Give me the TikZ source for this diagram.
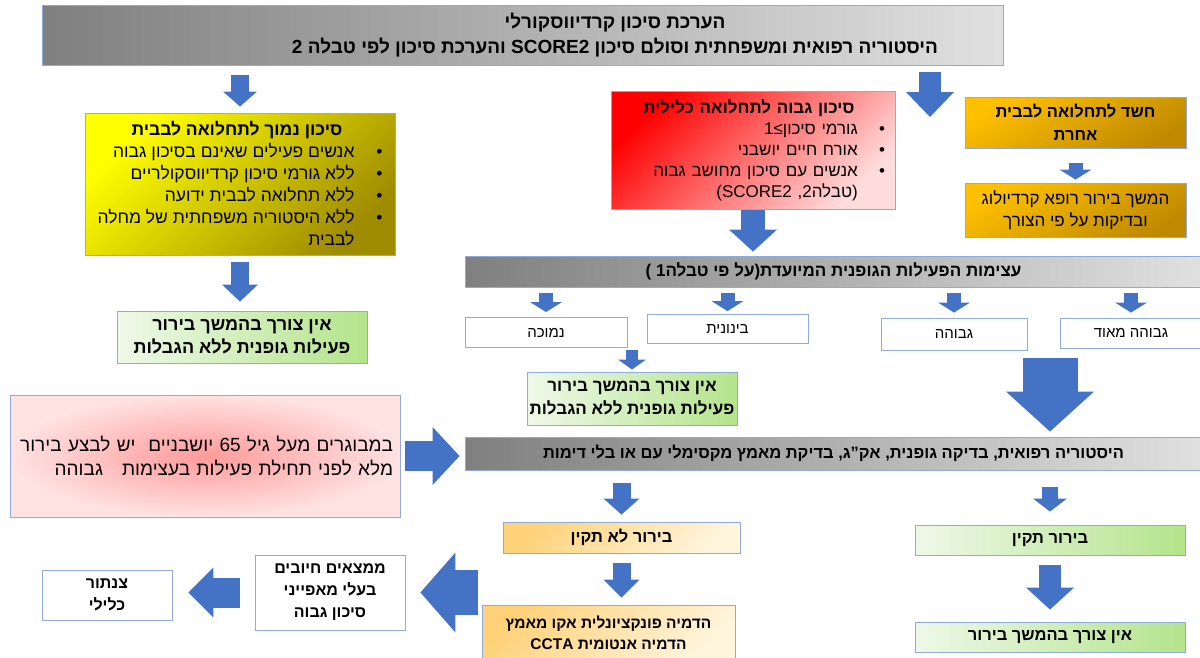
\documentclass[tikz,border=0pt]{standalone}
\usepackage{fontspec}
\setmainfont{Liberation Sans}[Script=Hebrew]
\newfontfamily\latinfont{Liberation Sans}
\usetikzlibrary{arrows.meta}
\TeXXeTstate=1
\newcommand{\rline}[1]{\beginR #1\endR}
\newcommand{\bul}{\makebox[1.6em][l]{\textbullet}}
\newcommand{\nobul}{\makebox[1.6em]{}}
\definecolor{boxline}{HTML}{8FAADC}
\definecolor{arrowblue}{HTML}{4472C4}
\definecolor{yellowa}{HTML}{FFFF00}
\definecolor{yellowb}{HTML}{A08C00}
\definecolor{reda}{HTML}{FF0000}
\definecolor{redb}{HTML}{FFDCDC}
\definecolor{orangea}{HTML}{FFC000}
\definecolor{orangeb}{HTML}{BF8A00}
\definecolor{greena}{HTML}{EEF8E8}
\definecolor{greenb}{HTML}{B4E48C}
\definecolor{paleora}{HTML}{FFD27A}
\definecolor{paleorb}{HTML}{FFF4DC}
\definecolor{pinka}{HTML}{FF9A9A}
\definecolor{pinkb}{HTML}{FFE2E2}

\begin{document}
\begin{tikzpicture}[x=1pt, y=-1pt,
    box/.style={draw=boxline, line width=0.9pt, inner sep=0pt, align=center},
    grayfill/.style={left color=black!50, right color=black!12},
    yellowfill/.style={top color=yellowa, bottom color=yellowb, shading angle=45},
    redfill/.style={top color=reda, bottom color=redb, shading angle=45},
    orangefill/.style={top color=orangea, bottom color=orangeb, shading angle=30},
    greenfill/.style={left color=greena, right color=greenb},
    paleorfill/.style={top color=paleora, bottom color=paleorb, shading angle=45},
    pinkfill/.style={inner color=pinka, outer color=pinkb},
    blockarrow/.style n args={3}{arrowblue, line width=#1,
      -{Triangle[width=#2, length=#3, line width=0pt]}}
  ]

  \useasboundingbox (0,0) rectangle (1200,657);

  % top row
  \node[box, grayfill, minimum width=961pt, minimum height=60pt] (assess) at (522.5,35) {};
  \node[align=center, font=\bfseries\fontsize{19}{25}\selectfont] (assesstext) at (615,35)
    {\rline{הערכת סיכון קרדיווסקורלי}\\
     \rline{היסטוריה רפואית ומשפחתית וסולם סיכון SCORE2 והערכת סיכון לפי טבלה 2}};

  \node[box, yellowfill, minimum width=310pt, minimum height=142pt, align=right,
    font=\fontsize{17.5}{22}\selectfont] (lowrisk) at (240,184)
    {\rline{\makebox[2.3em]{}\textbf{סיכון נמוך לתחלואה לבבית}}\\
     \rline{\bul אנשים פעילים שאינם בסיכון גבוה}\\
     \rline{\bul ללא גורמי סיכון קרדיווסקולריים}\\
     \rline{\bul ללא תחלואה לבבית ידועה}\\
     \rline{\bul ללא היסטוריה משפחתית של מחלה}\\
     \rline{\nobul לבבית}};

  \node[box, greenfill, minimum width=250pt, minimum height=52pt,
    font=\bfseries\fontsize{18}{23}\selectfont] (nolimit) at (242,337)
    {\rline{אין צורך בהמשך בירור}\\
     \rline{פעילות גופנית ללא הגבלות}};

  \node[box, redfill, minimum width=284pt, minimum height=118pt, text width=264pt,
    align=right, font=\fontsize{17}{21}\selectfont] (highrisk) at (753,150)
    {\rline{\makebox[1.8em]{}\textbf{סיכון גבוה לתחלואה כלילית}}\\
     {\latinfont 1≤}\rline{\bul גורמי סיכון}\\
     \rline{\bul אורח חיים יושבני}\\
     \rline{\bul אנשים עם סיכון מחושב גבוה}\\
     {\latinfont (SCORE2 ,2}\rline{טבלה}{\latinfont )}\nobul};

  \node[box, orangefill, minimum width=221pt, minimum height=51pt,
    font=\bfseries\fontsize{16.5}{23}\selectfont] (othercard) at (1075.5,122.5)
    {\rline{חשד לתחלואה לבבית}\\\rline{אחרת}};

  \node[box, orangefill, minimum width=221pt, minimum height=54pt,
    font=\fontsize{17}{22}\selectfont] (cardio) at (1075.5,210)
    {\rline{המשך בירור רופא קרדיולוג}\\\rline{ובדיקות על פי הצורך}};

  % intensity
  \node[box, grayfill, minimum width=737pt, minimum height=31pt,
    font=\bfseries\fontsize{17}{20}\selectfont] (intensity) at (833.5,271.5)
    {{\latinfont ( 1}\rline{על פי טבלה}{\latinfont )}\rline{עצימות הפעילות הגופנית המיועדת}};

  \node[box, fill=white, minimum width=162pt, minimum height=30pt,
    font=\fontsize{15}{18}\selectfont] (low) at (546,332.5) {\rline{נמוכה}};
  \node[box, fill=white, minimum width=161pt, minimum height=29pt,
    font=\fontsize{15}{18}\selectfont] (moderate) at (727.5,329) {\rline{בינונית}};
  \node[box, fill=white, minimum width=146pt, minimum height=32pt,
    font=\fontsize{15}{18}\selectfont] (high) at (954,334) {\rline{גבוהה}};
  \node[box, fill=white, minimum width=142pt, minimum height=30pt,
    font=\fontsize{15}{18}\selectfont] (veryhigh) at (1131,333) {\rline{גבוהה מאוד}};

  \node[box, greenfill, minimum width=210pt, minimum height=53pt,
    font=\bfseries\fontsize{17}{23}\selectfont] (nolimitb) at (632,398.5)
    {\rline{אין צורך בהמשך בירור}\\
     \rline{פעילות גופנית ללא הגבלות}};

  % work-up
  \node[box, pinkfill, minimum width=390pt, minimum height=122pt, text width=376pt,
    align=right, font=\fontsize{19}{24}\selectfont] (elderly) at (205,456)
    {\rline{במבוגרים מעל גיל 65 יושבניים\ \ יש לבצע בירור}\\
     \rline{מלא לפני תחילת פעילות בעצימות\ \ \ גבוהה}};

  \node[box, grayfill, minimum width=737pt, minimum height=33pt,
    font=\bfseries\fontsize{16.5}{19}\selectfont] (workup) at (833.5,453.5)
    {\rline{היסטוריה רפואית, בדיקה גופנית, אק"ג, בדיקת מאמץ מקסימלי עם או בלי דימות}};

  \node[box, paleorfill, minimum width=237pt, minimum height=31pt,
    font=\bfseries\fontsize{16.5}{19}\selectfont] (abnormal) at (621.5,537.5)
    {\rline{בירור לא תקין}};
  \node[box, greenfill, minimum width=270pt, minimum height=30pt,
    font=\bfseries\fontsize{16.5}{19}\selectfont] (normal) at (1050,540)
    {\rline{בירור תקין}};

  \node[box, paleorfill, minimum width=253pt, minimum height=56pt,
    font=\bfseries\fontsize{15.5}{21}\selectfont] (imaging) at (608.5,633)
    {\rline{הדמיה פונקציונלית אקו מאמץ}\\\rline{הדמיה אנטומית CCTA}};
  \node[box, greenfill, minimum width=270pt, minimum height=30pt,
    font=\bfseries\fontsize{16.5}{19}\selectfont] (nofurther) at (1050,637)
    {\rline{אין צורך בהמשך בירור}};

  \node[box, fill=white, minimum width=150pt, minimum height=75pt,
    font=\bfseries\fontsize{16}{22}\selectfont] (positive) at (330,592.5)
    {\rline{ממצאים חיובים}\\\rline{בעלי מאפייני}\\\rline{סיכון גבוה}};
  \node[box, fill=white, minimum width=130pt, minimum height=50pt,
    font=\bfseries\fontsize{16}{22}\selectfont] (cath) at (107,595)
    {\rline{צנתור}\\\rline{כלילי}};

  \coordinate (gap) at (930,117);

  % arrows
  \draw[blockarrow={18pt}{34pt}{15pt}] ([yshift=-10pt]assess.south -| lowrisk.north) -- ([yshift=6pt]lowrisk.north);
  \draw[blockarrow={18pt}{36pt}{17pt}] ([yshift=-7pt]lowrisk.south) -- ([yshift=9pt]nolimit.north -| lowrisk.south);
  \draw[blockarrow={22pt}{48pt}{25pt}] ([yshift=-7pt]assess.south -| gap) -- (gap);
  \draw[blockarrow={14pt}{32pt}{10pt}] ([yshift=-15pt]othercard.south) -- ([yshift=3pt]cardio.north);
  \draw[blockarrow={24pt}{48pt}{22pt}] ([yshift=-1pt]highrisk.south) -- ([yshift=4pt]intensity.north -| highrisk.south);

  \draw[blockarrow={14pt}{32pt}{10pt}] ([yshift=-6pt]intensity.south -| low.north) -- ([yshift=5pt]low.north);
  \draw[blockarrow={14pt}{32pt}{10pt}] ([yshift=-6pt]intensity.south -| moderate.north) -- ([yshift=3pt]moderate.north);
  \draw[blockarrow={14pt}{32pt}{10pt}] ([yshift=-6pt]intensity.south -| high.north) -- ([yshift=5pt]high.north);
  \draw[blockarrow={14pt}{32pt}{10pt}] ([yshift=-6pt]intensity.south -| veryhigh.north) -- ([yshift=5pt]veryhigh.north);
  \draw[blockarrow={12pt}{28pt}{10pt}] ([yshift=-6pt]moderate.south -| nolimitb.north) -- ([yshift=2pt]nolimitb.north);
  \draw[blockarrow={55pt}{88pt}{40pt}] ([yshift=-10pt]veryhigh.south -| normal.north) -- ([yshift=5pt]workup.north -| normal.north);

  \draw[blockarrow={30pt}{58pt}{27pt}] ([xshift=5pt]elderly.east) -- ([xshift=-5pt]workup.west |- elderly.east);
  \draw[blockarrow={18pt}{36pt}{16pt}] ([yshift=-13pt]workup.south -| abnormal.north) -- ([yshift=7pt]abnormal.north);
  \draw[blockarrow={16pt}{34pt}{13pt}] ([yshift=-17pt]workup.south -| normal.north) -- ([yshift=13pt]normal.north);
  \draw[blockarrow={18pt}{36pt}{18pt}] ([yshift=-10pt]abnormal.south) -- ([yshift=7pt]imaging.north -| abnormal.south);
  \draw[blockarrow={22pt}{48pt}{22pt}] ([yshift=-10pt]normal.south) -- ([yshift=12pt]nofurther.north);
  \draw[blockarrow={45pt}{80pt}{35pt}] ([xshift=-4pt]imaging.west |- positive.east) -- ([xshift=15pt]positive.east);
  \draw[blockarrow={30pt}{50pt}{25pt}] ([xshift=-15pt]positive.west) -- ([xshift=16pt]cath.east |- positive.west);

\end{tikzpicture}
\end{document}
